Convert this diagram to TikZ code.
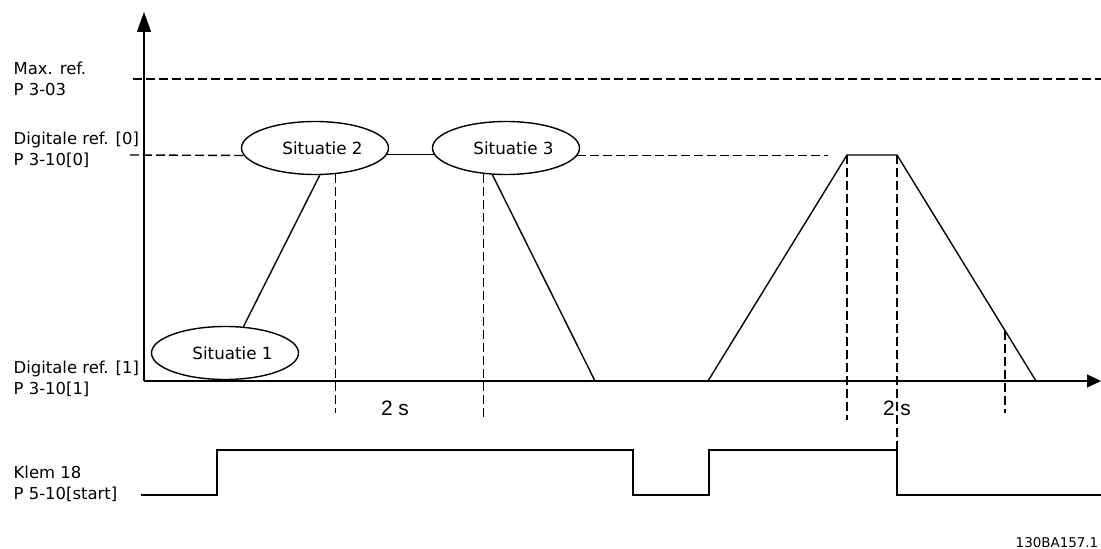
\documentclass[tikz,border=0pt]{standalone}
\usepackage{fontspec}
\setmainfont{DejaVu Sans}
\newfontfamily\arialf{Liberation Sans}
\usetikzlibrary{shapes.geometric,arrows.meta}
\begin{document}
\begin{tikzpicture}[x=1bp,y=-1bp, line width=1.4bp,
  lbl/.style={anchor=west, align=left, inner sep=0, font=\fontsize{16.5}{21}\selectfont},
  sit/.style={draw, ellipse, inner sep=0, minimum width=147bp, minimum height=53bp, font=\fontsize{16.8}{20}\selectfont},
  guide/.style={dash pattern=on 9bp off 4bp},
  dur/.style={font=\arialf\fontsize{21}{24}\selectfont, inner sep=0},
  codefont/.style={font=\fontsize{13.5}{15}\selectfont, inner sep=0, anchor=east}
]
\useasboundingbox (0,0) rectangle (1101,549);

% labels
\node[lbl] (lmax)  at (13,79)  {Max. ref.\\P 3-03};
\node[lbl] (lref0) at (13,150) {Digitale ref. [0]\\P 3-10[0]};
\node[lbl] (lref1) at (13,379) {Digitale ref. [1]\\P 3-10[1]};
\node[lbl] (lklem) at (13,484) {Klem 18\\P 5-10[start]};

% axes
\coordinate (o) at (144,381);
\coordinate (ytop) at (144,12);
\coordinate (xend) at (1101,381);
\draw[-{Triangle[length=20bp,width=14bp]}] (o) -- (ytop);
\draw[-{Triangle[length=14bp,width=13bp]}] (o) -- (xend);

% situations
\node[sit] (s1) at (225,353) {\hspace*{15bp}Situatie 1};
\node[sit] (s2) at (315,148) {\hspace*{15bp}Situatie 2};
\node[sit] (s3) at (506,148) {\hspace*{15bp}Situatie 3};

% reference levels
\coordinate (m0) at (133,79);
\coordinate (m1) at (1101,79);
\draw[guide] (m0) -- (m1);
\coordinate (r0) at (130,155);
\coordinate (dr0) at (828,155);
\draw[guide] (r0) -- (s2.186);
\draw[guide] (s3.-6) -- (s3.-6 -| dr0);
\draw (s2.-5) -- (s3.185);

% ramps
\draw (s1.55) -- (s2.-80);
\draw (s1.-106) -- (s1.-106 |- o);
\coordinate (p1) at (595,381);
\coordinate (p2) at (708,381);
\coordinate (p3) at (847,155);
\coordinate (p4) at (897,155);
\coordinate (p5) at (1036,381);
\draw (s3.-117) -- (p1) -- (p2) -- (p3) -- (p4) -- (p5);

% guide verticals
\coordinate (g1) at (335,413);
\coordinate (g2) at (484,420);
\coordinate (g3) at (846,420);
\coordinate (q0) at (1005,330.6);
\coordinate (q1) at (1005,413);
\draw[guide] (s2.-52) -- (s2.-52 |- g1);
\draw[guide] (s3.-131) -- (s3.-131 |- g2);
\draw[guide] (p3) -- (p3 |- g3);
\draw[guide] (q0) -- (q1);

% durations
\node[dur] (d1) at (395,408) {2 s};
\node[dur] (d2) at (897,408) {2 s};

% start signal
\coordinate (k0) at (141,495);
\coordinate (k1) at (217,495);
\coordinate (k2) at (217,450);
\coordinate (k3) at (633,450);
\coordinate (k4) at (633,495);
\coordinate (k5) at (709,495);
\coordinate (k6) at (709,450);
\coordinate (k7) at (897,450);
\coordinate (k8) at (897,495);
\coordinate (k9) at (1101,495);
\draw (k0) -- (k1) -- (k2) -- (k3) -- (k4) -- (k5) -- (k6) -- (k7) -- (k8) -- (k9);
\draw[guide] (p4) -- (k7);

\node[codefont] (code) at (1099,543) {130BA157.1};
\end{tikzpicture}
\end{document}
